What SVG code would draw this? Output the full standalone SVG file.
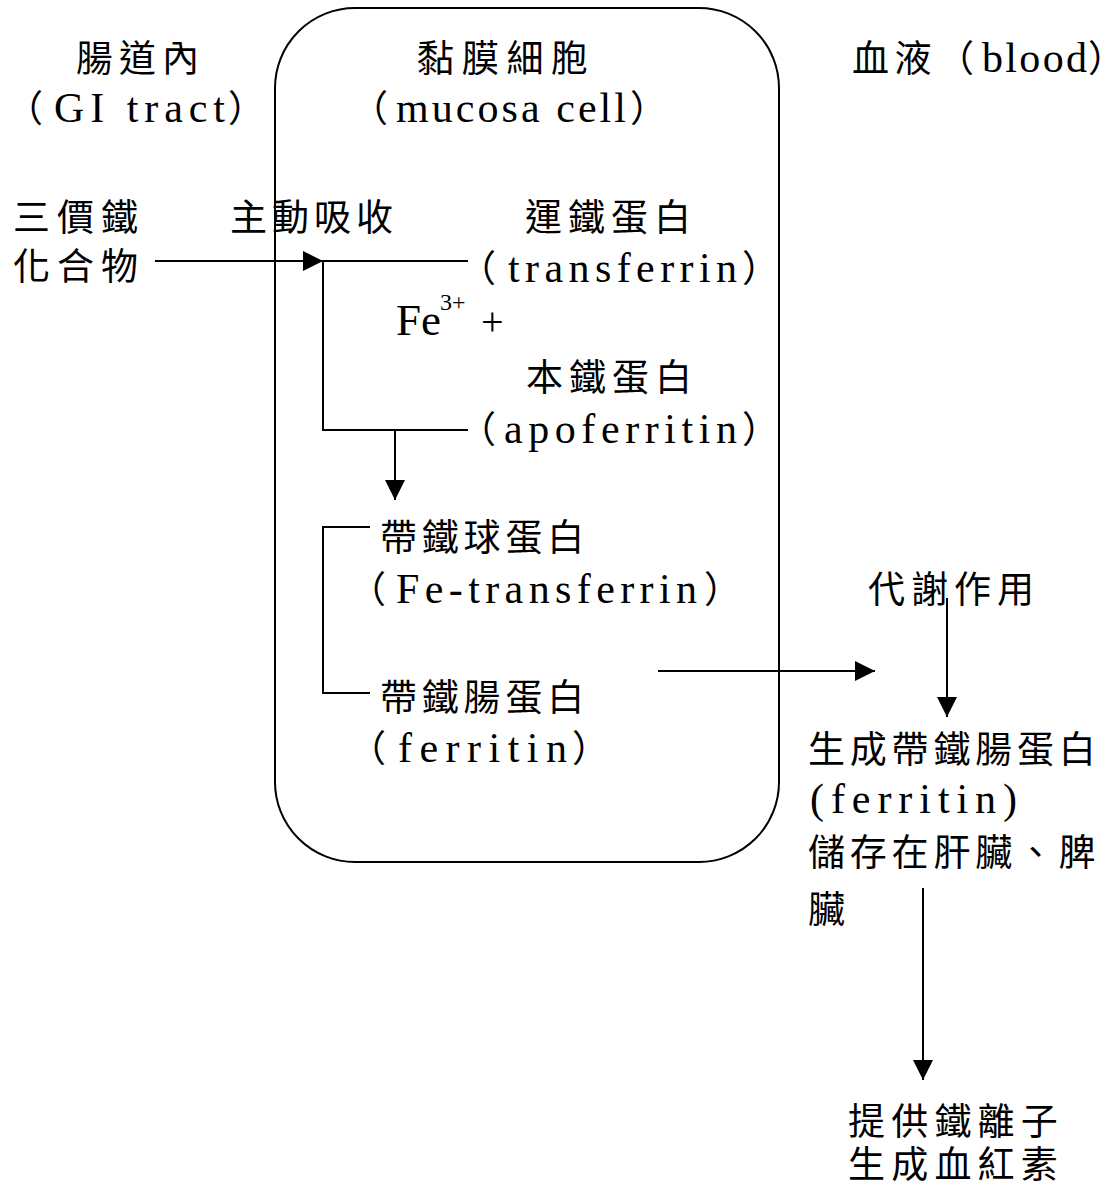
<svg xmlns="http://www.w3.org/2000/svg" width="1112" height="1196" viewBox="0 0 1112 1196">
  <style>
    .cjk { font-family: "Noto Sans CJK TC", "Noto Sans CJK JP", sans-serif; font-size: 37px; fill: #000; }
    .lat { font-family: "Liberation Serif", "Noto Sans CJK TC", serif; font-size: 42px; fill: #000; }
    .ln { fill: none; stroke: #000; stroke-width: 2; }
  </style>
  <defs>
    <marker id="head" viewBox="0 0 20 20" refX="20" refY="10" markerWidth="20" markerHeight="20" markerUnits="userSpaceOnUse" orient="auto">
      <path d="M0,0 L20,10 L0,20 Z" fill="#000"/>
    </marker>
  </defs>
  <rect width="1112" height="1196" fill="#fff"/>

  <!-- mucosa cell boundary -->
  <g id="cell-boundary">
    <rect x="275" y="8" width="504" height="854" rx="80" ry="80" class="ln"/>
  </g>

  <!-- region headings -->
  <g id="gi-tract">
    <text class="cjk" x="76" y="72" letter-spacing="6">腸道內</text>
    <text y="122"><tspan class="cjk" x="6">（</tspan><tspan class="lat" x="54" textLength="171" lengthAdjust="spacing">GI tract</tspan><tspan class="cjk" x="228">）</tspan></text>
  </g>
  <g id="mucosa-cell">
    <text class="cjk" x="417" y="72" letter-spacing="7.7">黏膜細胞</text>
    <text y="122"><tspan class="cjk" x="351">（</tspan><tspan class="lat" x="396" textLength="230" lengthAdjust="spacing">mucosa cell</tspan><tspan class="cjk" x="630">）</tspan></text>
  </g>
  <g id="blood">
    <text y="72"><tspan class="cjk" x="852" letter-spacing="5.5">血液</tspan><tspan class="cjk" x="937">（</tspan><tspan class="lat" x="982" textLength="105" lengthAdjust="spacing">blood</tspan><tspan class="cjk" x="1088" letter-spacing="-18">）</tspan></text>
  </g>

  <!-- process nodes -->
  <g id="ferric-compound">
    <text class="cjk" letter-spacing="7"><tspan x="13" y="231">三價鐵</tspan><tspan x="13" y="280">化合物</tspan></text>
  </g>
  <g id="active-absorption">
    <text class="cjk" x="230" y="231" letter-spacing="5">主動吸收</text>
  </g>
  <g id="transferrin">
    <text class="cjk" x="525" y="231" letter-spacing="6">運鐵蛋白</text>
    <text y="282"><tspan class="cjk" x="459">（</tspan><tspan class="lat" x="508" textLength="229" lengthAdjust="spacing">transferrin</tspan><tspan class="cjk" x="742">）</tspan></text>
  </g>
  <g id="ferric-ion">
    <text class="lat"><tspan x="396" y="335" font-size="45">Fe</tspan><tspan x="440" y="310" font-size="24">3+</tspan><tspan x="481" y="335" font-size="40">+</tspan></text>
  </g>
  <g id="apoferritin">
    <text class="cjk" x="526" y="391" letter-spacing="6">本鐵蛋白</text>
    <text y="443"><tspan class="cjk" x="459">（</tspan><tspan class="lat" x="504" textLength="233" lengthAdjust="spacing">apoferritin</tspan><tspan class="cjk" x="742">）</tspan></text>
  </g>
  <g id="fe-transferrin">
    <text class="cjk" x="380" y="551" letter-spacing="4.8">帶鐵球蛋白</text>
    <text y="603"><tspan class="cjk" x="349">（</tspan><tspan class="lat" x="396" textLength="301" lengthAdjust="spacing">Fe-transferrin</tspan><tspan class="cjk" x="704">）</tspan></text>
  </g>
  <g id="ferritin">
    <text class="cjk" x="380" y="711" letter-spacing="4.8">帶鐵腸蛋白</text>
    <text y="762"><tspan class="cjk" x="349">（</tspan><tspan class="lat" x="398" textLength="169" lengthAdjust="spacing">ferritin</tspan><tspan class="cjk" x="572">）</tspan></text>
  </g>
  <g id="metabolism">
    <text class="cjk" x="868" y="603" letter-spacing="6">代謝作用</text>
  </g>
  <g id="storage">
    <text class="cjk" x="808" y="763" letter-spacing="4.8">生成帶鐵腸蛋白</text>
    <text class="lat" x="810" y="813" textLength="207" lengthAdjust="spacing">(ferritin)</text>
    <text class="cjk" x="808" y="866" letter-spacing="4.8">儲存在肝臟、脾</text>
    <text class="cjk" x="808" y="923">臟</text>
  </g>
  <g id="hemoglobin">
    <text class="cjk" letter-spacing="6.2"><tspan x="848" y="1135">提供鐵離子</tspan><tspan x="848" y="1178">生成血紅素</tspan></text>
  </g>

  <!-- connectors -->
  <g id="connectors">
    <line x1="155" y1="261" x2="323" y2="261" class="ln" marker-end="url(#head)"/>
    <line x1="323" y1="261" x2="468" y2="261" class="ln"/>
    <polyline points="323,261 323,430 468,430" class="ln"/>
    <line x1="395" y1="430" x2="395" y2="500" class="ln" marker-end="url(#head)"/>
    <polyline points="370,527 323,527 323,693 370,693" class="ln"/>
    <line x1="658" y1="671" x2="875" y2="671" class="ln" marker-end="url(#head)"/>
    <line x1="947" y1="598" x2="947" y2="717" class="ln" marker-end="url(#head)"/>
    <line x1="923" y1="888" x2="923" y2="1080" class="ln" marker-end="url(#head)"/>
  </g>
</svg>
